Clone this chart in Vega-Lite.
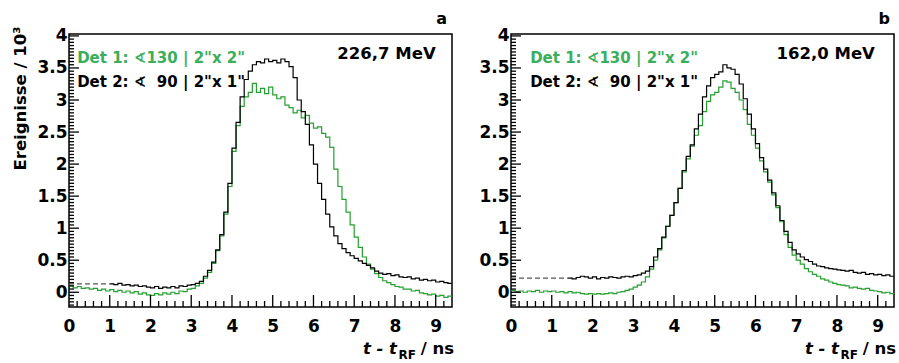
{
  "$schema": "https://vega.github.io/schema/vega-lite/v6.json",
  "background": "white",
  "autosize": {"type": "pad"},
  "padding": {"left": 11, "top": 9, "right": 0, "bottom": 0},
  "config": {
    "font": "DejaVu Sans",
    "view": {"stroke": "black", "strokeWidth": 1.5},
    "axis": {
      "grid": false,
      "ticks": false,
      "tickSize": 0,
      "domain": false,
      "labelFont": "DejaVu Sans",
      "labelFontWeight": "bold",
      "labelFontSize": 17,
      "labelColor": "black",
      "labelOverlap": false,
      "labelFlush": false,
      "titleFont": "DejaVu Sans",
      "titleFontWeight": "bold",
      "titleFontSize": 16.5,
      "titleColor": "black"
    },
    "text": {"font": "DejaVu Sans", "fontWeight": "bold", "color": "black"}
  },
  "datasets": {
    "h": [
      {"x": 0.0, "ga": 0.10, "ka": null, "gb": 0.03, "kb": null},
      {"x": 0.1, "ga": 0.07, "ka": null, "gb": 0.01, "kb": null},
      {"x": 0.2, "ga": 0.09, "ka": null, "gb": 0.02, "kb": null},
      {"x": 0.3, "ga": 0.06, "ka": null, "gb": 0.00, "kb": null},
      {"x": 0.4, "ga": 0.07, "ka": null, "gb": 0.02, "kb": null},
      {"x": 0.5, "ga": 0.05, "ka": null, "gb": 0.01, "kb": null},
      {"x": 0.6, "ga": 0.06, "ka": null, "gb": 0.03, "kb": null},
      {"x": 0.7, "ga": 0.03, "ka": null, "gb": 0.00, "kb": null},
      {"x": 0.8, "ga": 0.05, "ka": null, "gb": 0.02, "kb": null},
      {"x": 0.9, "ga": 0.02, "ka": null, "gb": 0.01, "kb": null},
      {"x": 1.0, "ga": 0.04, "ka": 0.13, "gb": 0.02, "kb": null},
      {"x": 1.1, "ga": 0.01, "ka": 0.12, "gb": 0.00, "kb": null},
      {"x": 1.2, "ga": 0.03, "ka": 0.14, "gb": 0.01, "kb": null},
      {"x": 1.3, "ga": 0.00, "ka": 0.11, "gb": -0.01, "kb": null},
      {"x": 1.4, "ga": 0.02, "ka": 0.12, "gb": 0.01, "kb": 0.22},
      {"x": 1.5, "ga": -0.01, "ka": 0.10, "gb": -0.01, "kb": 0.21},
      {"x": 1.6, "ga": 0.01, "ka": 0.11, "gb": 0.00, "kb": 0.23},
      {"x": 1.7, "ga": -0.03, "ka": 0.09, "gb": -0.02, "kb": 0.25},
      {"x": 1.8, "ga": -0.01, "ka": 0.10, "gb": -0.03, "kb": 0.24},
      {"x": 1.9, "ga": -0.04, "ka": 0.08, "gb": -0.02, "kb": 0.22},
      {"x": 2.0, "ga": -0.05, "ka": 0.07, "gb": -0.03, "kb": 0.24},
      {"x": 2.1, "ga": -0.02, "ka": 0.09, "gb": -0.02, "kb": 0.21},
      {"x": 2.2, "ga": -0.04, "ka": 0.06, "gb": -0.03, "kb": 0.23},
      {"x": 2.3, "ga": -0.01, "ka": 0.08, "gb": -0.02, "kb": 0.22},
      {"x": 2.4, "ga": -0.03, "ka": 0.07, "gb": -0.01, "kb": 0.24},
      {"x": 2.5, "ga": 0.00, "ka": 0.09, "gb": -0.02, "kb": 0.23},
      {"x": 2.6, "ga": -0.02, "ka": 0.07, "gb": 0.00, "kb": 0.22},
      {"x": 2.7, "ga": 0.02, "ka": 0.10, "gb": 0.01, "kb": 0.24},
      {"x": 2.8, "ga": 0.01, "ka": 0.09, "gb": 0.03, "kb": 0.25},
      {"x": 2.9, "ga": 0.05, "ka": 0.11, "gb": 0.05, "kb": 0.24},
      {"x": 3.0, "ga": 0.06, "ka": 0.12, "gb": 0.08, "kb": 0.26},
      {"x": 3.1, "ga": 0.10, "ka": 0.14, "gb": 0.11, "kb": 0.27},
      {"x": 3.2, "ga": 0.14, "ka": 0.17, "gb": 0.16, "kb": 0.30},
      {"x": 3.3, "ga": 0.22, "ka": 0.25, "gb": 0.24, "kb": 0.33},
      {"x": 3.4, "ga": 0.31, "ka": 0.34, "gb": 0.36, "kb": 0.40},
      {"x": 3.5, "ga": 0.45, "ka": 0.47, "gb": 0.50, "kb": 0.55},
      {"x": 3.6, "ga": 0.65, "ka": 0.66, "gb": 0.66, "kb": 0.68},
      {"x": 3.7, "ga": 0.88, "ka": 0.90, "gb": 0.85, "kb": 0.86},
      {"x": 3.8, "ga": 1.22, "ka": 1.25, "gb": 1.03, "kb": 1.03},
      {"x": 3.9, "ga": 1.65, "ka": 1.70, "gb": 1.20, "kb": 1.20},
      {"x": 4.0, "ga": 2.20, "ka": 2.25, "gb": 1.40, "kb": 1.40},
      {"x": 4.1, "ga": 2.60, "ka": 2.65, "gb": 1.62, "kb": 1.62},
      {"x": 4.2, "ga": 2.90, "ka": 3.05, "gb": 1.88, "kb": 1.90},
      {"x": 4.3, "ga": 3.05, "ka": 3.32, "gb": 2.08, "kb": 2.12},
      {"x": 4.4, "ga": 3.12, "ka": 3.45, "gb": 2.28, "kb": 2.30},
      {"x": 4.5, "ga": 3.26, "ka": 3.55, "gb": 2.45, "kb": 2.55},
      {"x": 4.6, "ga": 3.12, "ka": 3.60, "gb": 2.60, "kb": 2.78},
      {"x": 4.7, "ga": 3.18, "ka": 3.58, "gb": 2.82, "kb": 3.05},
      {"x": 4.8, "ga": 3.10, "ka": 3.64, "gb": 2.98, "kb": 3.22},
      {"x": 4.9, "ga": 3.20, "ka": 3.60, "gb": 3.08, "kb": 3.35},
      {"x": 5.0, "ga": 3.08, "ka": 3.62, "gb": 3.12, "kb": 3.40},
      {"x": 5.1, "ga": 3.02, "ka": 3.58, "gb": 3.20, "kb": 3.44},
      {"x": 5.2, "ga": 3.05, "ka": 3.64, "gb": 3.30, "kb": 3.55},
      {"x": 5.3, "ga": 2.92, "ka": 3.60, "gb": 3.28, "kb": 3.50},
      {"x": 5.4, "ga": 2.88, "ka": 3.52, "gb": 3.18, "kb": 3.48},
      {"x": 5.5, "ga": 2.80, "ka": 3.35, "gb": 3.12, "kb": 3.40},
      {"x": 5.6, "ga": 2.84, "ka": 3.00, "gb": 3.00, "kb": 3.25},
      {"x": 5.7, "ga": 2.72, "ka": 2.82, "gb": 2.85, "kb": 3.02},
      {"x": 5.8, "ga": 2.76, "ka": 2.62, "gb": 2.62, "kb": 2.78},
      {"x": 5.9, "ga": 2.64, "ka": 2.30, "gb": 2.45, "kb": 2.55},
      {"x": 6.0, "ga": 2.56, "ka": 2.00, "gb": 2.25, "kb": 2.32},
      {"x": 6.1, "ga": 2.58, "ka": 1.70, "gb": 2.05, "kb": 2.10},
      {"x": 6.2, "ga": 2.48, "ka": 1.45, "gb": 1.88, "kb": 1.92},
      {"x": 6.3, "ga": 2.42, "ka": 1.22, "gb": 1.72, "kb": 1.75},
      {"x": 6.4, "ga": 2.26, "ka": 1.02, "gb": 1.52, "kb": 1.55},
      {"x": 6.5, "ga": 1.92, "ka": 0.88, "gb": 1.32, "kb": 1.35},
      {"x": 6.6, "ga": 1.65, "ka": 0.76, "gb": 1.10, "kb": 1.12},
      {"x": 6.7, "ga": 1.45, "ka": 0.68, "gb": 0.90, "kb": 0.95},
      {"x": 6.8, "ga": 1.25, "ka": 0.62, "gb": 0.70, "kb": 0.78},
      {"x": 6.9, "ga": 1.05, "ka": 0.57, "gb": 0.58, "kb": 0.66},
      {"x": 7.0, "ga": 0.86, "ka": 0.53, "gb": 0.50, "kb": 0.60},
      {"x": 7.1, "ga": 0.70, "ka": 0.49, "gb": 0.44, "kb": 0.55},
      {"x": 7.2, "ga": 0.55, "ka": 0.45, "gb": 0.37, "kb": 0.51},
      {"x": 7.3, "ga": 0.44, "ka": 0.42, "gb": 0.32, "kb": 0.48},
      {"x": 7.4, "ga": 0.36, "ka": 0.38, "gb": 0.28, "kb": 0.44},
      {"x": 7.5, "ga": 0.29, "ka": 0.33, "gb": 0.25, "kb": 0.41},
      {"x": 7.6, "ga": 0.23, "ka": 0.30, "gb": 0.21, "kb": 0.40},
      {"x": 7.7, "ga": 0.18, "ka": 0.28, "gb": 0.19, "kb": 0.38},
      {"x": 7.8, "ga": 0.15, "ka": 0.29, "gb": 0.16, "kb": 0.37},
      {"x": 7.9, "ga": 0.12, "ka": 0.26, "gb": 0.14, "kb": 0.36},
      {"x": 8.0, "ga": 0.09, "ka": 0.27, "gb": 0.12, "kb": 0.35},
      {"x": 8.1, "ga": 0.08, "ka": 0.24, "gb": 0.11, "kb": 0.34},
      {"x": 8.2, "ga": 0.05, "ka": 0.23, "gb": 0.10, "kb": 0.33},
      {"x": 8.3, "ga": 0.05, "ka": 0.24, "gb": 0.07, "kb": 0.34},
      {"x": 8.4, "ga": 0.02, "ka": 0.21, "gb": 0.08, "kb": 0.31},
      {"x": 8.5, "ga": 0.03, "ka": 0.22, "gb": 0.06, "kb": 0.30},
      {"x": 8.6, "ga": -0.01, "ka": 0.19, "gb": 0.05, "kb": 0.31},
      {"x": 8.7, "ga": -0.02, "ka": 0.20, "gb": 0.06, "kb": 0.28},
      {"x": 8.8, "ga": -0.04, "ka": 0.18, "gb": 0.03, "kb": 0.29},
      {"x": 8.9, "ga": -0.03, "ka": 0.19, "gb": 0.02, "kb": 0.27},
      {"x": 9.0, "ga": -0.06, "ka": 0.16, "gb": 0.01, "kb": 0.28},
      {"x": 9.1, "ga": -0.05, "ka": 0.17, "gb": -0.01, "kb": 0.26},
      {"x": 9.2, "ga": -0.08, "ka": 0.15, "gb": 0.00, "kb": 0.27},
      {"x": 9.3, "ga": -0.06, "ka": 0.14, "gb": -0.02, "kb": 0.25},
      {"x": 9.4, "ga": -0.06, "ka": 0.14, "gb": -0.02, "kb": 0.25}
    ],
    "bg": [
      {"p": "a", "x": 0.0, "x2": 1.0, "y": 0.13},
      {"p": "b", "x": 0.0, "x2": 1.4, "y": 0.22}
    ],
    "xmaj": [{"v": 1}, {"v": 2}, {"v": 3}, {"v": 4}, {"v": 5}, {"v": 6}, {"v": 7}, {"v": 8}, {"v": 9}],
    "xmin": [{"v": 0.2}, {"v": 0.4}, {"v": 0.6}, {"v": 0.8}, {"v": 1.2}, {"v": 1.4}, {"v": 1.6}, {"v": 1.8}, {"v": 2.2}, {"v": 2.4}, {"v": 2.6}, {"v": 2.8}, {"v": 3.2}, {"v": 3.4}, {"v": 3.6}, {"v": 3.8}, {"v": 4.2}, {"v": 4.4}, {"v": 4.6}, {"v": 4.8}, {"v": 5.2}, {"v": 5.4}, {"v": 5.6}, {"v": 5.8}, {"v": 6.2}, {"v": 6.4}, {"v": 6.6}, {"v": 6.8}, {"v": 7.2}, {"v": 7.4}, {"v": 7.6}, {"v": 7.8}, {"v": 8.2}, {"v": 8.4}, {"v": 8.6}, {"v": 8.8}, {"v": 9.2}],
    "ymaj": [{"v": 0}, {"v": 0.5}, {"v": 1}, {"v": 1.5}, {"v": 2}, {"v": 2.5}, {"v": 3}, {"v": 3.5}, {"v": 4}],
    "ymin": [{"v": -0.2}, {"v": -0.15}, {"v": -0.1}, {"v": -0.05}, {"v": 0.05}, {"v": 0.1}, {"v": 0.15}, {"v": 0.2}, {"v": 0.25}, {"v": 0.3}, {"v": 0.35}, {"v": 0.4}, {"v": 0.45}, {"v": 0.55}, {"v": 0.6}, {"v": 0.65}, {"v": 0.7}, {"v": 0.75}, {"v": 0.8}, {"v": 0.85}, {"v": 0.9}, {"v": 0.95}, {"v": 1.05}, {"v": 1.1}, {"v": 1.15}, {"v": 1.2}, {"v": 1.25}, {"v": 1.3}, {"v": 1.35}, {"v": 1.4}, {"v": 1.45}, {"v": 1.55}, {"v": 1.6}, {"v": 1.65}, {"v": 1.7}, {"v": 1.75}, {"v": 1.8}, {"v": 1.85}, {"v": 1.9}, {"v": 1.95}, {"v": 2.05}, {"v": 2.1}, {"v": 2.15}, {"v": 2.2}, {"v": 2.25}, {"v": 2.3}, {"v": 2.35}, {"v": 2.4}, {"v": 2.45}, {"v": 2.55}, {"v": 2.6}, {"v": 2.65}, {"v": 2.7}, {"v": 2.75}, {"v": 2.8}, {"v": 2.85}, {"v": 2.9}, {"v": 2.95}, {"v": 3.05}, {"v": 3.1}, {"v": 3.15}, {"v": 3.2}, {"v": 3.25}, {"v": 3.3}, {"v": 3.35}, {"v": 3.4}, {"v": 3.45}, {"v": 3.55}, {"v": 3.6}, {"v": 3.65}, {"v": 3.7}, {"v": 3.75}, {"v": 3.8}, {"v": 3.85}, {"v": 3.9}, {"v": 3.95}]
  },
  "bounds": "flush",
  "spacing": 59,
  "hconcat": [
    {
      "width": 383,
      "height": 273,
      "resolve": {"axis": {"x": "independent", "y": "independent"}},
      "layer": [
        {
          "data": {"name": "h"},
          "mark": {"type": "line", "interpolate": "step-after", "strokeWidth": 1.2, "color": "#23a02f", "clip": true},
          "encoding": {
            "x": {"field": "x", "type": "quantitative", "scale": {"domain": [0, 9.4], "nice": false, "zero": false},
              "axis": {"orient": "bottom", "title": null, "values": [0,1,2,3,4,5,6,7,8,9], "format": "d", "labelPadding": 11, "labelOverlap": false}},
            "y": {"field": "ga", "type": "quantitative", "scale": {"domain": [-0.23, 4.03], "nice": false, "zero": false},
              "axis": {
                "orient": "left",
                "title": "Ereignisse / 10³",
                "titleX": -44, "titleY": -8, "titleAlign": "right", "titleAngle": -90, "titleBaseline": "alphabetic",
                "values": [0,0.5,1,1.5,2,2.5,3,3.5,4], "format": "~g", "labelPadding": 2, "labelOverlap": false}}
          }
        },
        {
          "data": {"name": "h"},
          "mark": {"type": "line", "interpolate": "step-after", "strokeWidth": 1.2, "color": "#000000", "clip": true},
          "encoding": {
            "x": {"field": "x", "type": "quantitative", "axis": null},
            "y": {"field": "ka", "type": "quantitative", "axis": null}
          }
        },
        {
          "data": {"name": "bg"},
          "transform": [{"filter": "datum.p === 'a'"}],
          "mark": {"type": "rule", "strokeDash": [5, 3], "strokeWidth": 1.2, "color": "#555555"},
          "encoding": {
            "x": {"field": "x", "type": "quantitative", "axis": null},
            "x2": {"field": "x2"},
            "y": {"field": "y", "type": "quantitative", "axis": null}
          }
        },
        {
          "data": {"name": "xmaj"},
          "mark": {"type": "rule", "strokeWidth": 1.3, "color": "#000000"},
          "encoding": {"x": {"field": "v", "type": "quantitative", "axis": null}, "y": {"datum": -0.23, "axis": null}, "y2": {"datum": -0.043}}
        },
        {
          "data": {"name": "xmin"},
          "mark": {"type": "rule", "strokeWidth": 1.3, "color": "#000000"},
          "encoding": {"x": {"field": "v", "type": "quantitative", "axis": null}, "y": {"datum": -0.23, "axis": null}, "y2": {"datum": -0.136}}
        },
        {
          "data": {"name": "ymaj"},
          "mark": {"type": "rule", "strokeWidth": 1.3, "color": "#000000"},
          "encoding": {"y": {"field": "v", "type": "quantitative", "axis": null}, "x": {"datum": 0, "axis": null}, "x2": {"datum": 0.245}}
        },
        {
          "data": {"name": "ymin"},
          "mark": {"type": "rule", "strokeWidth": 1.3, "color": "#000000"},
          "encoding": {"y": {"field": "v", "type": "quantitative", "axis": null}, "x": {"datum": 0, "axis": null}, "x2": {"datum": 0.123}}
        },
        {
          "data": {"values": [{"t": "Det 1: ∢130 | 2\"x 2\""}]},
          "mark": {"type": "text", "align": "left", "baseline": "alphabetic", "fontSize": 15, "color": "#3aae5a"},
          "encoding": {"text": {"field": "t"}, "x": {"datum": 0.2, "axis": null}, "y": {"datum": 3.58, "axis": null}}
        },
        {
          "data": {"values": [{"t": "Det 2: ∢\u200790 | 2\"x 1\""}]},
          "mark": {"type": "text", "align": "left", "baseline": "alphabetic", "fontSize": 15, "color": "black"},
          "encoding": {"text": {"field": "t"}, "x": {"datum": 0.2, "axis": null}, "y": {"datum": 3.2, "axis": null}}
        },
        {
          "data": {"values": [{"t": "226,7 MeV"}]},
          "mark": {"type": "text", "align": "right", "baseline": "alphabetic", "fontSize": 16.5},
          "encoding": {"text": {"field": "t"}, "x": {"datum": 9.0, "axis": null}, "y": {"datum": 3.64, "axis": null}}
        },
        {
          "data": {"values": [{"t": "a"}]},
          "mark": {"type": "text", "align": "right", "baseline": "alphabetic", "fontSize": 16},
          "encoding": {"text": {"field": "t"}, "x": {"datum": 9.28, "axis": null}, "y": {"datum": 4.19, "axis": null}}
        },
        {
          "data": {"values": [{"t": "/ ns"}]},
          "mark": {"type": "text", "align": "right", "baseline": "alphabetic", "fontSize": 16.5, "dy": 47, "dx": 2},
          "encoding": {"text": {"field": "t"}, "x": {"datum": 9.4, "axis": null}, "y": {"datum": -0.23, "axis": null}}
        },
        {
          "data": {"values": [{"t": "RF"}]},
          "mark": {"type": "text", "align": "right", "baseline": "alphabetic", "fontSize": 12, "dy": 52, "dx": -36},
          "encoding": {"text": {"field": "t"}, "x": {"datum": 9.4, "axis": null}, "y": {"datum": -0.23, "axis": null}}
        },
        {
          "data": {"values": [{"t": "t - t"}]},
          "mark": {"type": "text", "align": "right", "baseline": "alphabetic", "fontSize": 16.5, "fontStyle": "italic", "dy": 47, "dx": -55},
          "encoding": {"text": {"field": "t"}, "x": {"datum": 9.4, "axis": null}, "y": {"datum": -0.23, "axis": null}}
        }
      ]
    },
    {
      "width": 383,
      "height": 273,
      "resolve": {"axis": {"x": "independent", "y": "independent"}},
      "layer": [
        {
          "data": {"name": "h"},
          "mark": {"type": "line", "interpolate": "step-after", "strokeWidth": 1.2, "color": "#23a02f", "clip": true},
          "encoding": {
            "x": {"field": "x", "type": "quantitative", "scale": {"domain": [0, 9.4], "nice": false, "zero": false},
              "axis": {"orient": "bottom", "title": null, "values": [0,1,2,3,4,5,6,7,8,9], "format": "d", "labelPadding": 11, "labelOverlap": false}},
            "y": {"field": "gb", "type": "quantitative", "scale": {"domain": [-0.23, 4.03], "nice": false, "zero": false},
              "axis": {"orient": "left", "title": null, "values": [0,0.5,1,1.5,2,2.5,3,3.5,4], "format": "~g", "labelPadding": 2, "labelOverlap": false}}
          }
        },
        {
          "data": {"name": "h"},
          "mark": {"type": "line", "interpolate": "step-after", "strokeWidth": 1.2, "color": "#000000", "clip": true},
          "encoding": {
            "x": {"field": "x", "type": "quantitative", "axis": null},
            "y": {"field": "kb", "type": "quantitative", "axis": null}
          }
        },
        {
          "data": {"name": "bg"},
          "transform": [{"filter": "datum.p === 'b'"}],
          "mark": {"type": "rule", "strokeDash": [5, 3], "strokeWidth": 1.2, "color": "#555555"},
          "encoding": {
            "x": {"field": "x", "type": "quantitative", "axis": null},
            "x2": {"field": "x2"},
            "y": {"field": "y", "type": "quantitative", "axis": null}
          }
        },
        {
          "data": {"name": "xmaj"},
          "mark": {"type": "rule", "strokeWidth": 1.3, "color": "#000000"},
          "encoding": {"x": {"field": "v", "type": "quantitative", "axis": null}, "y": {"datum": -0.23, "axis": null}, "y2": {"datum": -0.043}}
        },
        {
          "data": {"name": "xmin"},
          "mark": {"type": "rule", "strokeWidth": 1.3, "color": "#000000"},
          "encoding": {"x": {"field": "v", "type": "quantitative", "axis": null}, "y": {"datum": -0.23, "axis": null}, "y2": {"datum": -0.136}}
        },
        {
          "data": {"name": "ymaj"},
          "mark": {"type": "rule", "strokeWidth": 1.3, "color": "#000000"},
          "encoding": {"y": {"field": "v", "type": "quantitative", "axis": null}, "x": {"datum": 0, "axis": null}, "x2": {"datum": 0.245}}
        },
        {
          "data": {"name": "ymin"},
          "mark": {"type": "rule", "strokeWidth": 1.3, "color": "#000000"},
          "encoding": {"y": {"field": "v", "type": "quantitative", "axis": null}, "x": {"datum": 0, "axis": null}, "x2": {"datum": 0.123}}
        },
        {
          "data": {"values": [{"t": "Det 1: ∢130 | 2\"x 2\""}]},
          "mark": {"type": "text", "align": "left", "baseline": "alphabetic", "fontSize": 15, "color": "#3aae5a"},
          "encoding": {"text": {"field": "t"}, "x": {"datum": 0.47, "axis": null}, "y": {"datum": 3.58, "axis": null}}
        },
        {
          "data": {"values": [{"t": "Det 2: ∢\u200790 | 2\"x 1\""}]},
          "mark": {"type": "text", "align": "left", "baseline": "alphabetic", "fontSize": 15, "color": "black"},
          "encoding": {"text": {"field": "t"}, "x": {"datum": 0.47, "axis": null}, "y": {"datum": 3.2, "axis": null}}
        },
        {
          "data": {"values": [{"t": "162,0 MeV"}]},
          "mark": {"type": "text", "align": "right", "baseline": "alphabetic", "fontSize": 16.5},
          "encoding": {"text": {"field": "t"}, "x": {"datum": 8.93, "axis": null}, "y": {"datum": 3.64, "axis": null}}
        },
        {
          "data": {"values": [{"t": "b"}]},
          "mark": {"type": "text", "align": "right", "baseline": "alphabetic", "fontSize": 16},
          "encoding": {"text": {"field": "t"}, "x": {"datum": 9.3, "axis": null}, "y": {"datum": 4.19, "axis": null}}
        },
        {
          "data": {"values": [{"t": "/ ns"}]},
          "mark": {"type": "text", "align": "right", "baseline": "alphabetic", "fontSize": 16.5, "dy": 47, "dx": 2},
          "encoding": {"text": {"field": "t"}, "x": {"datum": 9.4, "axis": null}, "y": {"datum": -0.23, "axis": null}}
        },
        {
          "data": {"values": [{"t": "RF"}]},
          "mark": {"type": "text", "align": "right", "baseline": "alphabetic", "fontSize": 12, "dy": 52, "dx": -36},
          "encoding": {"text": {"field": "t"}, "x": {"datum": 9.4, "axis": null}, "y": {"datum": -0.23, "axis": null}}
        },
        {
          "data": {"values": [{"t": "t - t"}]},
          "mark": {"type": "text", "align": "right", "baseline": "alphabetic", "fontSize": 16.5, "fontStyle": "italic", "dy": 47, "dx": -55},
          "encoding": {"text": {"field": "t"}, "x": {"datum": 9.4, "axis": null}, "y": {"datum": -0.23, "axis": null}}
        }
      ]
    }
  ]
}
